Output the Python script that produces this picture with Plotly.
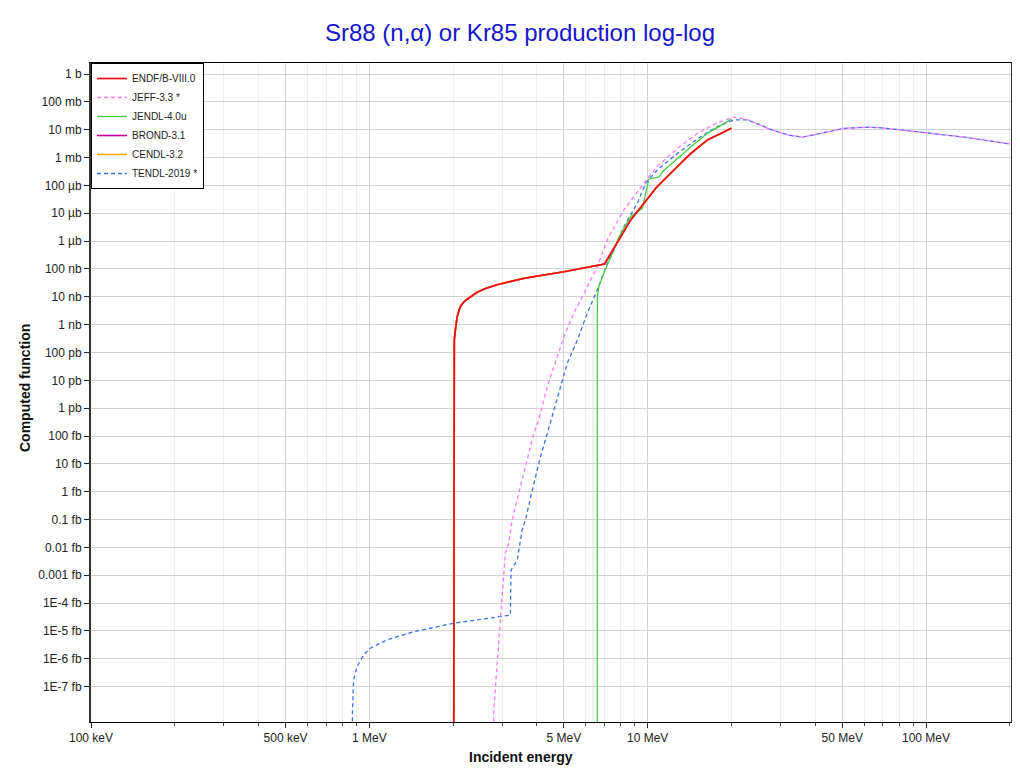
import plotly.graph_objects as go

# ---------------- data (energy in eV, cross section in barn) ----------------
endf_e = [2.01e6, 2.0105e6, 2.015e6, 2.02e6, 2.04e6, 2.07e6, 2.12e6, 2.18e6, 2.24e6, 2.32e6,
          2.44e6, 2.62e6, 2.88e6, 3.59e6, 5.0e6, 7.0e6, 7.78e6, 8.69e6, 9.70e6, 1.08e7,
          1.24e7, 1.43e7, 1.64e7, 1.88e7, 2.0e7]
endf_s = [1e-25, 1e-11, 1.2e-10, 2.8e-10, 7.0e-10, 2.0e-9, 4.3e-9, 6.3e-9, 8.0e-9, 1.05e-8,
          1.45e-8, 2.0e-8, 2.7e-8, 4.6e-8, 7.9e-8, 1.5e-7, 8.9e-7, 5.75e-6, 2.3e-5, 8.9e-5,
          3.5e-4, 1.4e-3, 4.3e-3, 8.5e-3, 1.12e-2]

jeff_e = [2.79e6, 2.80e6, 2.88e6, 2.97e6, 3.04e6, 3.08e6, 3.17e6, 3.26e6, 3.44e6,
          3.54e6, 3.69e6, 3.90e6, 4.06e6, 4.36e6, 5.0e6, 5.43e6, 6.07e6, 6.59e6,
          7.2e6, 8.22e6, 9.70e6, 1.08e7, 1.28e7, 1.51e7, 1.78e7, 2.04e7, 2.28e7,
          2.55e7, 2.70e7, 3.18e7, 3.60e7, 4.19e7, 5.08e7, 6.17e7, 6.89e7, 8.13e7,
          1.01e8, 1.37e8, 2.0e8]
jeff_s = [1e-25, 1.45e-23, 7.1e-22, 4.3e-20, 1.17e-18, 6.2e-18, 1.4e-17, 9.8e-17, 8.7e-16,
          2.6e-15, 1.38e-14, 1.26e-13, 3.8e-13, 5.9e-12, 3.7e-10, 2.6e-9, 2.3e-8, 1.2e-7,
          1.26e-6, 1.32e-5, 1.2e-4, 4.7e-4, 2.14e-3, 7.4e-3, 1.78e-2, 2.8e-2, 2.3e-2,
          1.48e-2, 1.12e-2, 6.5e-3, 5.4e-3, 7.4e-3, 1.12e-2, 1.23e-2, 1.17e-2, 9.8e-3,
          7.8e-3, 5.4e-3, 3.1e-3]

jendl_e = [6.59e6, 6.595e6, 6.68e6, 6.87e6, 7.12e6, 7.46e6, 7.9e6, 8.69e6, 9.57e6,
           1.01e7, 1.10e7, 1.13e7, 1.28e7, 1.43e7, 1.64e7, 1.88e7, 2.0e7]
jendl_s = [1e-25, 1e-8, 2.3e-8, 5.2e-8, 1.2e-7, 3.6e-7, 1.45e-6, 7.6e-6, 1.5e-5,
           1.7e-4, 2.0e-4, 3.1e-4, 9.3e-4, 2.45e-3, 7.4e-3, 1.7e-2, 2.4e-2]

# BROND-3.1 and CENDL-3.2 coincide with ENDF/B-VIII.0 (hidden beneath it)
brond_e = endf_e
brond_s = endf_s
cendl_e = endf_e
cendl_s = endf_s

tendl_e = [8.66e5, 8.70e5, 8.78e5, 9.03e5, 9.54e5, 1.008e6, 1.158e6, 1.44e6, 2.01e6,
           2.88e6, 3.21e6, 3.23e6, 3.40e6, 3.54e6, 3.64e6, 3.85e6, 3.96e6, 4.12e6,
           4.36e6, 4.60e6, 4.87e6, 5.14e6, 5.59e6, 6.07e6, 6.59e6, 6.87e6, 7.16e6,
           7.57e6, 8.22e6, 9.18e6, 9.84e6, 1.08e7, 1.28e7, 1.55e7, 1.78e7, 2.04e7,
           2.28e7, 2.55e7, 2.70e7, 3.18e7, 3.60e7, 4.19e7, 5.08e7, 6.17e7, 6.89e7,
           8.13e7, 1.01e8, 1.37e8, 2.0e8]
tendl_s = [1e-25, 1.45e-23, 1.74e-22, 5.2e-22, 1.38e-21, 2.4e-21, 4.8e-21, 9.3e-21, 1.9e-20,
           3.2e-20, 3.7e-20, 1.55e-18, 3.5e-18, 4.3e-17, 9.8e-17, 1.15e-15, 3.5e-15, 1.8e-14,
           1.26e-13, 8.7e-13, 5.9e-12, 4.1e-11, 2.8e-10, 2.6e-9, 1.74e-8, 5.2e-8, 1.58e-7,
           4.8e-7, 3.3e-6, 2.3e-5, 1.2e-4, 3.5e-4, 1.41e-3, 5.6e-3, 1.29e-2, 2.24e-2,
           2.24e-2, 1.48e-2, 1.12e-2, 6.5e-3, 5.4e-3, 7.4e-3, 1.12e-2, 1.23e-2, 1.17e-2,
           9.8e-3, 7.8e-3, 5.4e-3, 3.1e-3]

x_tickvals = [1e5, 5e5, 1e6, 5e6, 1e7, 5e7, 1e8]
x_ticktext = ["100 keV", "500 keV", "1 MeV", "5 MeV", "10 MeV", "50 MeV", "100 MeV"]
x_minor = [m * d for d in (1e5, 1e6, 1e7) for m in (2, 3, 4, 6, 7, 8, 9)] + [2e8]

y_tickvals = [10.0 ** (-k) for k in range(0, 23)]
y_ticktext = ["1 b", "100 mb", "10 mb", "1 mb", "100 µb", "10 µb", "1 µb",
              "100 nb", "10 nb", "1 nb", "100 pb", "10 pb", "1 pb",
              "100 fb", "10 fb", "1 fb", "0.1 fb", "0.01 fb", "0.001 fb",
              "1E-4 fb", "1E-5 fb", "1E-6 fb", "1E-7 fb"]

# ---------------- figure ----------------
DASH = "4px,3px"
series = [
    # name, x, y, color, width, dash, legendrank
    ("BROND-3.1", brond_e, brond_s, "#cc0099", 1.6, "solid", 4),
    ("CENDL-3.2", cendl_e, cendl_s, "#ffa500", 1.6, "solid", 5),
    ("TENDL-2019 *", tendl_e, tendl_s, "#3f6fe0", 1.3, DASH, 6),
    ("JEFF-3.3 *", jeff_e, jeff_s, "#ff77ff", 1.3, DASH, 2),
    ("JENDL-4.0u", jendl_e, jendl_s, "#44cc44", 1.3, "solid", 3),
    ("ENDF/B-VIII.0", endf_e, endf_s, "#ee1111", 1.7, "solid", 1),
]

fig = go.Figure()
for name, xs, ys, col, w, dash, rank in series:
    fig.add_trace(go.Scatter(x=xs, y=ys, mode="lines", name=name, legendrank=rank,
                             line=dict(color=col, width=w, dash=dash)))

# the page body adds an 8px offset; margins compensate so the plot area
# lands at x 91..1011, y 63..722 in the window
OFF = 8
font_family = "Liberation Sans, Arial, sans-serif"
fig.update_layout(
    width=1020, height=773,
    margin=dict(l=91 - OFF, r=1020 - (1011 - OFF), t=63 - OFF, b=773 - (722 - OFF)),
    paper_bgcolor="white", plot_bgcolor="white",
    font=dict(family=font_family, size=12, color="#222222"),
    title=dict(text="Sr88 (n,α) or Kr85 production log-log",
               font=dict(size=24, color="#1515cc", family=font_family),
               x=(520 - OFF) / 1020, xref="container", xanchor="center",
               y=1 - (33 - OFF) / 773, yref="container", yanchor="middle"),
    showlegend=True,
    legend=dict(x=0.0, y=1.0, xanchor="left", yanchor="top",
                bgcolor="white", bordercolor="black", borderwidth=1,
                font=dict(size=10, family=font_family, color="#222222"),
                tracegroupgap=0, itemwidth=30),
    xaxis=dict(type="log", range=[5, 8.3054],
               tickmode="array", tickvals=x_tickvals, ticktext=x_ticktext,
               ticks="outside", ticklen=5, tickcolor="#222222",
               showline=True, linecolor="black", linewidth=1, mirror=True,
               showgrid=True, gridcolor="#d2d2d2", gridwidth=1, zeroline=False,
               minor=dict(tickmode="array", tickvals=x_minor, showgrid=True,
                          gridcolor="#eeeeee", gridwidth=1, ticks="outside",
                          ticklen=3, tickcolor="#444444")),
    yaxis=dict(type="log", range=[-23.27, 0.395],
               tickmode="array", tickvals=y_tickvals, ticktext=y_ticktext,
               ticks="outside", ticklen=5, tickcolor="#222222",
               showline=True, linecolor="#333333", linewidth=2, mirror=True,
               showgrid=True, gridcolor="#d2d2d2", gridwidth=1, zeroline=False),
    annotations=[
        dict(text="<b>Incident energy</b>", xref="paper", yref="paper",
             x=(521 - 91) / 920, y=(722 - 757) / 659, xanchor="center", yanchor="middle",
             showarrow=False, font=dict(size=14, color="#111111", family=font_family)),
        dict(text="<b>Computed function</b>", xref="paper", yref="paper",
             x=(25 - 91) / 920, y=(722 - 388) / 659, xanchor="center", yanchor="middle",
             textangle=-90, showarrow=False,
             font=dict(size=14, color="#111111", family=font_family)),
    ],
)

fig.write_html("out.html")
